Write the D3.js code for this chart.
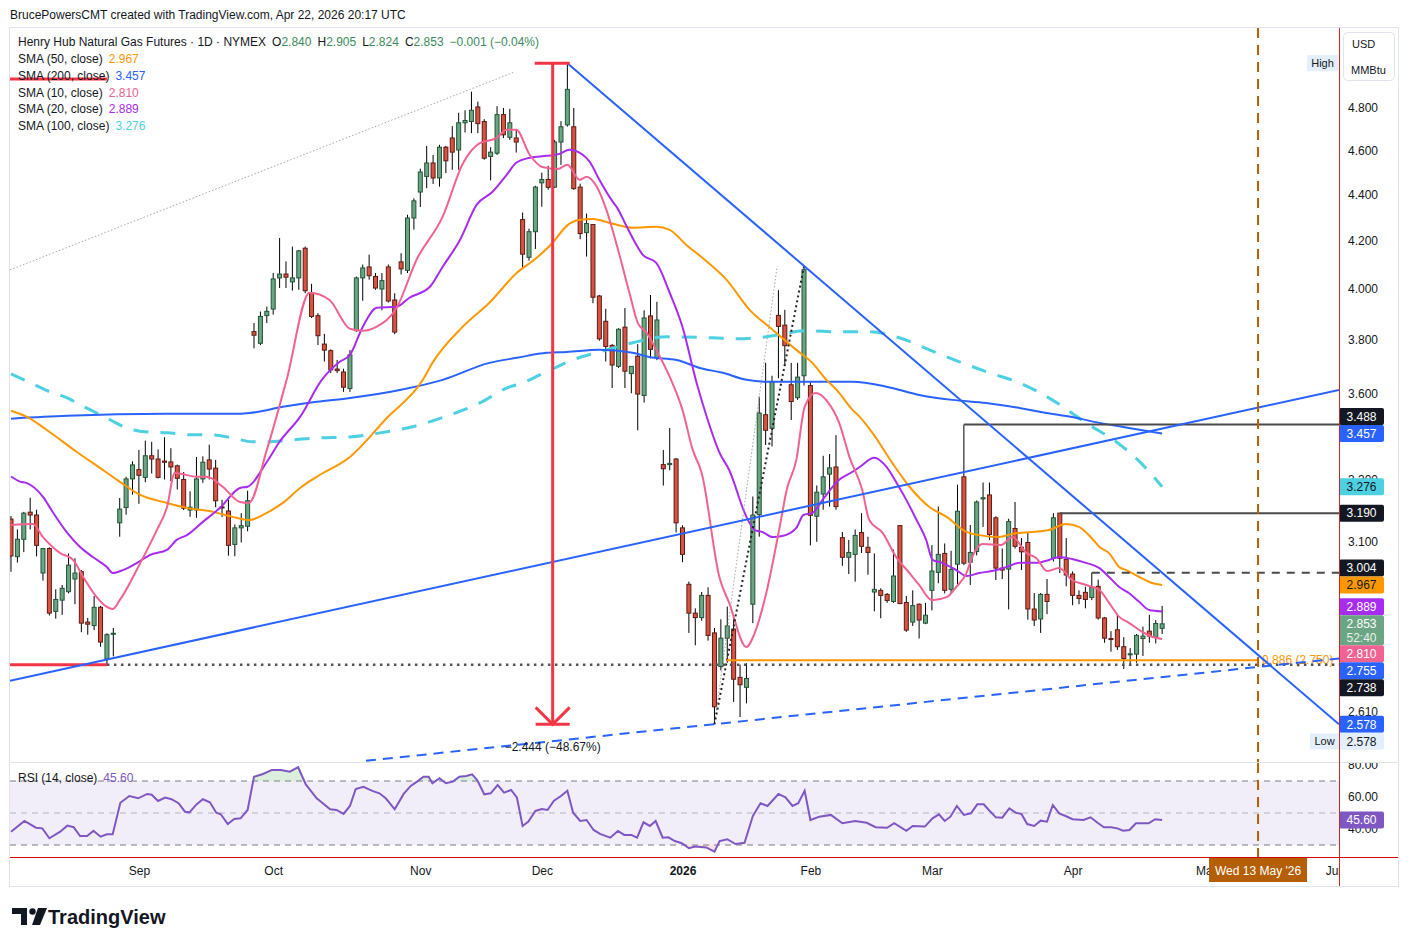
<!DOCTYPE html>
<html>
<head>
<meta charset="utf-8">
<script src="https://cdn.jsdelivr.net/npm/d3@7"></script>
<style>
  body { margin: 0; background: #fff; }
  svg { display: block; }
</style>
</head>
<body>
<svg id="chart"></svg>
<script>
// daily bars from Mon 4 Aug 2025 to Wed 22 Apr 2026
const opens = [3.171,3.053,3.107,3.193,3.184,3.003,3.078,2.889,2.922,2.947,2.985,3.007,2.858,2.848,2.901,2.754,2.823,3.159,3.208,3.302,
  3.333,3.307,3.380,3.369,3.362,3.359,3.346,3.300,3.200,3.200,3.302,3.366,3.338,3.210,3.197,3.091,3.143,3.148,3.831,3.786,
  3.893,3.919,4.044,4.060,4.028,4.044,4.167,3.982,3.893,3.783,3.758,3.689,3.678,3.617,3.835,4.044,4.089,4.050,3.999,4.089,
  3.955,4.110,4.075,4.296,4.410,4.480,4.541,4.473,4.614,4.657,4.601,4.729,4.735,4.805,4.735,4.571,4.586,4.768,4.660,4.657,
  4.289,4.129,4.237,4.451,4.466,4.432,4.638,4.719,4.710,4.432,4.233,4.268,3.971,3.871,3.778,3.699,3.848,3.672,3.737,3.592,
  3.892,3.730,3.350,3.350,3.369,3.143,2.969,2.884,2.871,2.936,2.827,2.733,2.812,2.838,2.703,2.676,2.910,3.185,3.523,3.475,
  3.894,3.856,3.631,3.584,3.664,3.628,3.180,3.252,3.318,3.342,3.112,3.051,3.060,3.128,3.082,2.946,2.951,2.939,2.918,3.150,
  2.915,2.858,2.910,2.855,2.951,3.005,3.063,2.954,3.030,3.309,3.036,3.069,3.236,3.249,3.175,3.018,3.015,3.141,3.082,3.097,
  2.896,2.867,2.939,3.048,3.190,3.045,3.000,2.936,2.945,2.930,2.963,2.870,2.811,2.836,2.788,2.766,2.767,2.811,2.832,2.815,2.840];
const highs = [3.181,3.138,3.194,3.240,3.201,3.080,3.082,2.954,2.967,3.063,3.048,3.012,2.870,2.934,2.905,2.826,2.841,3.239,3.309,3.361,
  3.400,3.432,3.428,3.402,3.444,3.406,3.350,3.325,3.261,3.376,3.378,3.418,3.366,3.233,3.233,3.154,3.190,3.263,3.864,3.909,
  3.929,4.064,4.210,4.112,4.174,4.160,4.174,4.020,3.903,3.822,3.763,3.723,3.690,3.760,4.050,4.099,4.140,4.064,4.064,4.099,
  3.982,4.146,4.310,4.382,4.515,4.620,4.578,4.625,4.620,4.713,4.777,4.789,4.880,4.831,4.746,4.614,4.809,4.800,4.796,4.697,
  4.320,4.250,4.438,4.497,4.528,4.648,4.737,5.022,4.800,4.447,4.315,4.270,3.975,3.920,3.783,3.844,3.923,3.700,3.783,3.914,
  3.975,3.948,3.400,3.476,3.372,3.151,2.977,2.898,2.946,2.960,2.841,2.866,2.903,2.874,2.738,2.742,3.244,3.588,3.712,3.664,
  3.994,3.916,3.712,3.712,4.092,3.640,3.280,3.380,3.386,3.451,3.130,3.105,3.138,3.190,3.115,3.063,2.957,2.943,3.075,3.152,
  2.934,2.951,2.912,2.914,3.089,3.211,3.094,3.071,3.283,3.488,3.152,3.231,3.290,3.290,3.180,3.078,3.172,3.226,3.111,3.130,
  2.943,2.943,2.985,3.190,3.190,3.111,3.008,2.951,2.962,3.004,2.983,2.873,2.832,2.881,2.815,2.784,2.824,2.845,2.879,2.864,2.905];
const lows = [3.007,3.035,3.067,3.138,3.054,2.980,2.877,2.868,2.879,2.942,2.910,2.829,2.822,2.835,2.788,2.738,2.761,3.115,3.185,3.250,
  3.220,3.291,3.320,3.304,3.300,3.295,3.267,3.200,3.178,3.175,3.289,3.300,3.209,3.178,3.056,3.054,3.097,3.132,3.767,3.779,
  3.864,3.897,4.003,4.003,3.993,3.996,3.982,3.884,3.779,3.717,3.674,3.674,3.605,3.605,3.830,3.952,4.037,3.996,3.914,3.945,
  3.821,4.058,4.064,4.246,4.344,4.427,4.446,4.434,4.495,4.510,4.510,4.683,4.680,4.680,4.556,4.462,4.578,4.657,4.648,4.589,
  4.087,4.115,4.164,4.345,4.420,4.428,4.532,4.711,4.420,4.205,4.132,3.942,3.796,3.717,3.619,3.693,3.619,3.600,3.468,3.566,
  3.729,3.722,3.280,3.331,3.128,3.036,2.827,2.792,2.862,2.805,2.578,2.722,2.743,2.637,2.597,2.633,2.855,3.115,3.417,3.412,
  3.655,3.700,3.504,3.576,3.628,3.088,3.099,3.201,3.211,3.201,3.025,3.000,2.977,3.064,2.998,2.889,2.869,2.914,2.914,2.910,
  2.830,2.847,2.811,2.852,2.892,2.972,2.942,2.942,2.970,3.027,2.967,3.057,3.146,3.105,2.982,2.985,2.895,3.078,3.012,2.865,
  2.847,2.827,2.881,3.038,3.003,2.963,2.907,2.910,2.898,2.922,2.865,2.799,2.774,2.779,2.726,2.738,2.743,2.762,2.799,2.797,2.824];
const closes = [3.055,3.107,3.190,3.184,3.088,3.078,2.884,2.924,2.957,3.027,3.003,2.855,2.852,2.901,2.801,2.822,2.826,3.203,3.302,3.349,
  3.314,3.380,3.369,3.307,3.358,3.342,3.304,3.206,3.209,3.302,3.358,3.335,3.230,3.207,3.088,3.143,3.150,3.230,3.817,3.890,
  3.910,4.040,4.060,4.047,4.044,4.156,3.992,3.890,3.815,3.760,3.686,3.683,3.622,3.742,4.044,4.085,4.053,4.003,4.033,3.951,
  3.829,4.081,4.296,4.371,4.500,4.541,4.473,4.614,4.551,4.591,4.729,4.740,4.789,4.725,4.563,4.591,4.768,4.672,4.729,4.638,
  4.142,4.237,4.432,4.466,4.431,4.638,4.710,4.891,4.425,4.229,4.272,3.966,3.803,3.774,3.704,3.840,3.681,3.699,3.597,3.884,
  3.763,3.876,3.336,3.354,3.159,3.060,2.884,2.871,2.936,2.820,2.624,2.812,2.847,2.698,2.683,2.700,3.184,3.529,3.468,3.641,
  3.851,3.777,3.570,3.659,4.078,3.183,3.258,3.309,3.339,3.211,3.051,3.066,3.119,3.085,3.066,2.954,2.936,2.921,2.994,2.912,
  2.835,2.906,2.864,2.878,3.009,3.060,2.951,3.014,3.196,3.033,3.066,3.226,3.240,3.122,3.018,3.012,3.163,3.085,3.068,2.896,
  2.864,2.939,2.918,3.175,3.048,2.997,2.936,2.927,2.924,2.960,2.870,2.812,2.809,2.788,2.755,2.768,2.820,2.818,2.818,2.854,2.853];

// moving averages: [bar, value]
const sma10 = [[0,3.152],[3.4,3.155],[5,3.114],[7.7,3.064],[9.7,3.043],[11.3,2.991],[13.4,2.931],[15,2.902],[15.9,2.896],[17,2.922],
  [20.2,3.033],[22.8,3.136],[24.4,3.210],[25.6,3.322],[29.1,3.309],[30.6,3.309],[33.1,3.276],[35.8,3.226],[37.2,3.223],[40,3.400],
  [43.1,3.649],[46.7,3.984],[49.8,3.955],[53,3.842],[55,3.834],[57.2,3.850],[60.3,3.924],[63.4,4.118],[67.5,4.302],[70.7,4.541],
  [73.3,4.633],[75.9,4.656],[77.5,4.696],[79,4.696],[81.1,4.579],[83.1,4.523],[85.5,4.514],[87,4.533],[88.9,4.465],[90,4.478],
  [91.6,4.433],[93.1,4.331],[94.8,4.173],[96.7,3.984],[98,3.865],[99.4,3.826],[100.9,3.761],[103,3.660],[105,3.540],[106.6,3.400],
  [108,3.322],[110.8,2.988],[112.3,2.914],[115,2.787],[116.3,2.827],[118.1,2.943],[120.2,3.146],[121.3,3.266],[122.8,3.366],[124.1,3.551],
  [125.8,3.601],[127.7,3.569],[129.5,3.494],[131.1,3.376],[133.1,3.266],[134.2,3.168],[136.3,3.127],[138.4,3.052],[140.5,3.003],[142,2.967],
  [144,2.922],[146.3,2.931],[147.8,2.961],[149.4,3.003],[150.3,3.052],[151.9,3.092],[154.8,3.089],[156.6,3.114],[158.8,3.064],[160.3,3.049],
  [162,3.009],[163.9,3.018],[165.9,2.982],[168.1,2.967],[170.2,2.952],[171.7,2.914],[173.3,2.873],[174.8,2.856],[176.9,2.830],[178.4,2.816],[180,2.810]];
const sma20 = [[0,3.310],[1.4,3.293],[2.5,3.288],[5,3.243],[6.6,3.191],[8.8,3.127],[10.8,3.083],[12.8,3.052],[15,3.021],[15.9,3.003],
  [17.5,3.012],[19.7,3.034],[21.7,3.058],[24.4,3.074],[25.9,3.105],[27.5,3.120],[30,3.162],[32.7,3.207],[35.8,3.272],[37,3.276],
  [40,3.359],[42,3.428],[45.2,3.515],[48.6,3.649],[51.4,3.716],[53,3.742],[55,3.849],[57.2,3.924],[60.3,3.928],[62.3,3.964],
  [65.5,4.008],[67.5,4.090],[70.2,4.202],[72.8,4.353],[75.3,4.411],[77.5,4.487],[79,4.542],[81.1,4.565],[83.8,4.574],[85.8,4.583],
  [87.3,4.602],[89.4,4.579],[90.5,4.546],[92,4.465],[93.9,4.375],[94.8,4.340],[96.3,4.258],[97.8,4.181],[98.8,4.139],[100.9,4.106],
  [103,3.984],[105,3.849],[107.2,3.638],[108.8,3.515],[110.8,3.390],[112.3,3.332],[115,3.178],[116.3,3.136],[117.5,3.130],[119.1,3.114],
  [120.6,3.117],[122.8,3.143],[123.9,3.184],[125.3,3.190],[126.9,3.233],[129.5,3.299],[131.6,3.326],[132.7,3.342],[135,3.373],[136.9,3.342],
  [138.4,3.292],[140,3.233],[141.6,3.168],[143.1,3.105],[144.1,3.043],[145.6,3.034],[147.8,3.012],[149.4,2.994],[151.4,3.003],[153.4,3.009],
  [155.6,3.021],[157.7,3.034],[160.3,3.034],[162.3,3.043],[163.9,3.052],[165.9,3.046],[168.1,3.034],[170.2,3.018],[171.7,2.991],[173.3,2.961],
  [174.8,2.943],[176.4,2.917],[178,2.893],[180,2.889]];
const sma50 = [[0,3.537],[2.5,3.515],[5.6,3.469],[10.3,3.393],[13.9,3.339],[16.6,3.299],[20.2,3.249],[24.4,3.223],[27.5,3.207],[31.6,3.194],
  [34.7,3.178],[37.3,3.168],[40,3.191],[42.5,3.223],[45.2,3.272],[47.8,3.309],[53,3.376],[58.8,3.512],[64.4,3.649],[65.9,3.712],
  [70.6,3.849],[74.8,3.944],[79.1,4.065],[82.2,4.127],[84.7,4.190],[86.9,4.262],[88.9,4.288],[91,4.292],[94.1,4.271],[97.2,4.254],
  [100.9,4.258],[103,4.245],[105.6,4.181],[108.1,4.127],[111.9,4.036],[115.5,3.916],[119.1,3.838],[122.8,3.761],[125.3,3.712],[127.5,3.649],
  [129.1,3.612],[131.6,3.540],[132.7,3.515],[134.7,3.459],[137.8,3.356],[140.5,3.276],[143.6,3.210],[146.3,3.178],[149.4,3.130],[151.4,3.120],
  [154.5,3.114],[156.6,3.124],[159.7,3.130],[162.3,3.136],[165,3.155],[167,3.146],[169.1,3.108],[170.2,3.083],[171.7,3.064],[173.3,3.021],
  [174.4,3.012],[176.4,2.991],[178.4,2.973],[180,2.967]];
const sma100 = [[0,3.671],[3.4,3.634],[6.1,3.605],[8.8,3.583],[10.8,3.558],[13.4,3.529],[15.5,3.505],[18.1,3.476],[21.3,3.462],[24.4,3.459],
  [28.4,3.452],[31.6,3.452],[34.7,3.441],[37.8,3.428],[40,3.428],[43.6,3.434],[47.8,3.441],[53,3.445],[57.7,3.459],[63.9,3.487],
  [68.6,3.522],[73.3,3.565],[77.5,3.619],[80,3.638],[82.7,3.667],[87.8,3.723],[92,3.753],[97.2,3.788],[102.5,3.811],[109.7,3.807],
  [113.9,3.803],[118.1,3.811],[124.4,3.834],[129.5,3.830],[134.2,3.830],[138.9,3.807],[143.6,3.761],[148.3,3.716],[153,3.675],[157.7,3.638],
  [162.8,3.576],[168.1,3.494],[173.3,3.420],[176.4,3.362],[180,3.276]];
const sma200 = [[0,3.509],[8.8,3.519],[24.4,3.526],[34.7,3.526],[37.3,3.529],[42.5,3.551],[47.8,3.569],[53,3.583],[60.8,3.612],[67.5,3.649],
  [74.8,3.712],[79.1,3.731],[83.8,3.750],[86.9,3.753],[92,3.761],[97.2,3.750],[99.8,3.734],[104.1,3.723],[107.7,3.693],[111.3,3.675],
  [115,3.649],[118.1,3.642],[124.4,3.642],[131.6,3.642],[136.9,3.624],[142,3.594],[147.2,3.576],[152.5,3.565],[157.7,3.547],[161.9,3.529],
  [165.9,3.515],[170.2,3.494],[174.8,3.476],[180,3.457]];

// RSI (14): [bar, value]
const rsi14 = [[0,38.3],[2.1,45.0],[3.9,40.8],[4.9,40.4],[6,34.2],[7.7,38.3],[8.8,42.1],[9.8,41.1],[10.8,35.6],[11.9,35.6],
  [12.9,38.9],[14,35.2],[15,36.7],[15.9,36.7],[17.1,56.4],[18.5,60.6],[19.9,59.2],[21.3,61.9],[22,61.4],[23,57.5],
  [24.1,59.6],[25.1,58.6],[26.2,56.1],[27.2,50.8],[27.9,50.4],[29,55.4],[30,58.6],[31.1,56.7],[32.1,50.2],[32.8,49.2],
  [33.9,43.1],[34.9,46.3],[35.9,46.7],[37,51.9],[38,72.7],[39.4,74.4],[40.8,76.9],[42.2,76.9],[43.6,75.8],[44.9,78.6],
  [46.1,67.9],[47.8,59.2],[49.9,52.3],[50.9,51.9],[52,49.4],[53,54.4],[53.9,65.0],[55.1,66.4],[56.5,63.8],[57.6,62.3],
  [58.6,59.2],[60,52.3],[61.4,61.9],[62.5,66.9],[63.5,69.6],[64.5,72.7],[65.3,72.7],[65.9,68.6],[67,71.7],[68,68.6],
  [69.1,69.6],[70.1,72.7],[71.2,73.1],[72.1,74.2],[72.9,70.6],[74,61.7],[75,62.3],[76.1,67.5],[77.1,62.7],[78.2,64.4],
  [79.1,59.8],[80,41.9],[80.9,44.6],[82,51.3],[83,52.5],[83.9,51.9],[84.9,57.7],[86,60.6],[87,63.9],[87.9,50.2],
  [89,45.0],[90,45.6],[91.1,39.4],[92.1,36.9],[93.7,34.6],[94.9,38.8],[95.9,36.3],[97,36.3],[97.9,34.6],[98.9,44.2],
  [99.9,41.9],[100.8,45.0],[101.9,34.6],[102.8,34.8],[103.8,32.5],[104.9,31.1],[106,28.0],[107,29.0],[108.7,28.5],[110,25.8],
  [110.8,32.5],[112,33.6],[113.3,30.6],[114.7,31.4],[116,48.1],[117.2,56.1],[118.3,54.4],[120,61.9],[121.1,59.8],[122.2,54.4],
  [123.1,56.1],[124.1,63.9],[125,45.6],[126.4,47.7],[128.2,48.8],[130,43.6],[132,45.0],[133.8,43.9],[135.2,41.1],[137,40.8],
  [138.1,43.6],[140,38.9],[141,41.9],[142.9,41.5],[144.1,46.7],[145.1,49.2],[146,45.0],[146.9,47.7],[147.9,54.4],[149,48.8],
  [150.1,49.8],[151.1,55.4],[152.1,55.4],[152.9,51.9],[154,47.3],[155,47.1],[156.1,52.9],[157.1,50.2],[158,49.4],[158.9,43.1],
  [160,41.9],[161,45.2],[162,44.6],[162.9,55.0],[163.9,49.8],[164.9,48.1],[166,46.1],[167.7,45.6],[168.8,47.3],[169.9,43.9],
  [170.9,41.1],[172,41.1],[173,40.4],[173.9,38.9],[174.9,39.4],[175.9,43.6],[176.8,43.6],[177.9,43.6],[178.9,46.1],[180,45.6]];

// drawings: [bar, price] end points
const fallLine = [[87, 5.022], [207.656, 2.578]];
const riseLine = [[-0.156, 2.694], [207.656, 3.612]];
const supportDash = [[55.5, 2.485], [207.656, 2.755]];
const greyDotted = [[-0.156, 4.077], [78.75, 4.978]];
const blackDotted = [[110, 2.578], [124, 4.092]];
const greyDotted2 = [[110, 2.578], [119.8, 4.092]];
const levelLines = [[3.488, 149], [3.190, 164]];
const dashedLevel = [3.004, 169];
const lowLevel = [2.738, 15];
const topMark = [4.942, 15];
const fibLevel = [2.750, 111.9];
const measure = { bar: 84.7, hi: 5.022, lo: 2.578 };

const priceTicks = [4.8, 4.6, 4.4, 4.2, 4.0, 3.8, 3.6, 3.3, 3.1, 2.61];
const rsiTicks = [80, 60, 40];
const tagPrices = [3.488, 3.457, 3.276, 3.190, 3.004, 2.967, 2.889, 2.853, 2.810, 2.755, 2.738, 2.578, 2.578];

const holidays = ["2025-09-01","2025-11-27","2025-12-25","2026-01-01","2026-01-19","2026-02-16","2026-04-03","2026-05-25"];
const markedDay = "2026-05-13";

// ---------------------------------------------------------------
const FONT = "'Liberation Sans', Arial, sans-serif";
const INK = "#131722";
const W = 1409, H = 946;
const plotL = 10, plotR = 1339, priceTop = 28, priceBot = 762, rsiTop = 763, rsiBot = 857, axisBot = 886;

const upFill = "#6BA583", upLine = "#225437", dnFill = "#D75442", dnLine = "#5B1A13";
const cOrange = "#FF9800", cBlue = "#2962FF", cPink = "#F06292", cPurple = "#A72CF0", cCyan = "#4DD0E1", cRsi = "#7E57C2";
const cRed = "#F23645", cBrown = "#B45F06";

const fmtDay = d3.utcFormat("%Y-%m-%d");
const tradingDays = d3.utcDays(new Date(Date.UTC(2025, 7, 4)), new Date(Date.UTC(2026, 6, 1)))
  .filter(d => d.getUTCDay() !== 0 && d.getUTCDay() !== 6 && !holidays.includes(fmtDay(d)));
const monthTicks = d3.range(1, tradingDays.length)
  .filter(k => tradingDays[k].getUTCMonth() !== tradingDays[k - 1].getUTCMonth());
const markK = tradingDays.findIndex(d => fmtDay(d) === markedDay);

const bars = opens.map((o, k) => ({ k, o, h: highs[k], l: lows[k], c: closes[k] }));

const x = d3.scaleLinear().domain([-0.156, 207.656]).range([plotL, plotR]);
const y = d3.scaleLog().domain([2.61, 4.8]).range([712.1, 108]);
const yr = d3.scaleLinear().domain([30, 80]).range([845, 765]);

const svg = d3.select("#chart").attr("width", W).attr("height", H)
  .attr("font-family", FONT);

svg.append("rect").attr("width", W).attr("height", H).attr("fill", "#fff");

const defs = svg.append("defs");
const clip = (id, x0, y0, x1, y1) => defs.append("clipPath").attr("id", id)
  .append("rect").attr("x", x0).attr("y", y0).attr("width", x1 - x0).attr("height", y1 - y0);
clip("cPrice", plotL, priceTop, plotR, priceBot);
clip("cRsi", plotL, rsiTop, plotR, rsiBot);
clip("cOver", plotL, rsiTop, plotR, yr(70));
clip("cUnder", plotL, yr(30), plotR, rsiBot);
clip("cTime", plotL, rsiBot, plotR, axisBot);
clip("cPAxis", plotR, priceTop, 1398, priceBot);
clip("cRAxis", plotR, rsiTop, 1398, rsiBot);

// header
svg.append("text").attr("x", 10).attr("y", 19).attr("font-size", 12).attr("fill", INK)
  .text("BrucePowersCMT created with TradingView.com, Apr 22, 2026 20:17 UTC");

// frame
svg.append("rect").attr("x", 9.5).attr("y", 27.5).attr("width", 1389).attr("height", 859)
  .attr("fill", "none").attr("stroke", "#E0E3EB");
svg.append("line").attr("x1", plotL).attr("x2", 1398).attr("y1", 762.5).attr("y2", 762.5)
  .attr("stroke", "#E0E3EB");

// ---------------- price pane
const pricePane = svg.append("g").attr("clip-path", "url(#cPrice)");

const candleG = pricePane.append("g");
candleG.selectAll("line").data(bars).join("line")
  .attr("x1", d => x(d.k)).attr("x2", d => x(d.k))
  .attr("y1", d => y(d.h)).attr("y2", d => y(d.l))
  .attr("stroke", "#000").attr("stroke-width", 1);
candleG.selectAll("rect").data(bars).join("rect")
  .attr("x", d => x(d.k) - 2)
  .attr("y", d => y(Math.max(d.o, d.c)))
  .attr("width", 4)
  .attr("height", d => Math.max(1, y(Math.min(d.o, d.c)) - y(Math.max(d.o, d.c))))
  .attr("fill", d => d.c >= d.o ? upFill : dnFill)
  .attr("stroke", d => d.c >= d.o ? upLine : dnLine)
  .attr("stroke-width", 1);

const smaLine = d3.line().x(d => x(d[0])).y(d => y(d[1])).curve(d3.curveMonotoneX);
const addSma = (data, color, width, dash) => pricePane.append("path").datum(data)
  .attr("d", smaLine).attr("fill", "none").attr("stroke", color)
  .attr("stroke-width", width).attr("stroke-dasharray", dash || null);
addSma(sma100, cCyan, 3, "15,12");
addSma(sma200, cBlue, 2);
addSma(sma50, cOrange, 2);
addSma(sma20, cPurple, 2);
addSma(sma10, cPink, 2);

// drawings
const seg = (pts, color, width, dash) => pricePane.append("line")
  .attr("x1", x(pts[0][0])).attr("y1", y(pts[0][1]))
  .attr("x2", x(pts[1][0])).attr("y2", y(pts[1][1]))
  .attr("stroke", color).attr("stroke-width", width)
  .attr("stroke-dasharray", dash || null);

seg(greyDotted, "#A3A6AF", 1, "1.5,2");
seg(greyDotted2, "#A3A6AF", 1, "1.5,2");
seg(blackDotted, "#222", 2, "2,3");

// fib 0.886 level
pricePane.append("text").attr("x", x(markK) + 4).attr("y", y(fibLevel[0]) + 4)
  .attr("font-size", 12).attr("fill", cOrange).text(`0.886 (${fibLevel[0].toFixed(3)})`);
seg([[fibLevel[1], fibLevel[0]], [markK, fibLevel[0]]], cOrange, 2);

levelLines.forEach(([p, k]) => seg([[k, p], [207.656, p]], "#4A4A4A", 2));
seg([[dashedLevel[1], dashedLevel[0]], [207.656, dashedLevel[0]]], "#4A4A4A", 2, "8,7");
seg([[lowLevel[1], lowLevel[0]], [207.656, lowLevel[0]]], "#555", 2.5, "2.5,4.5");
seg([[-0.156, lowLevel[0]], [lowLevel[1], lowLevel[0]]], cRed, 3);
seg([[-0.156, topMark[0]], [topMark[1], topMark[0]]], cRed, 3);

seg(riseLine, cBlue, 2);
seg(fallLine, cBlue, 2);
seg(supportDash, cBlue, 2, "10,7");

// price range measure
const mx = x(measure.bar), myTop = y(measure.hi), myBot = y(measure.lo);
const mG = pricePane.append("g").attr("stroke", cRed).attr("stroke-width", 3).attr("fill", "none");
mG.append("line").attr("x1", mx).attr("x2", mx).attr("y1", myTop).attr("y2", myBot);
mG.append("line").attr("x1", mx - 18).attr("x2", mx + 17).attr("y1", myTop).attr("y2", myTop);
mG.append("line").attr("x1", mx - 17).attr("x2", mx + 17).attr("y1", myBot).attr("y2", myBot);
mG.append("path").attr("d", `M${mx - 17},${myBot - 17}L${mx},${myBot}L${mx + 17},${myBot - 17}`);
const diff = measure.lo - measure.hi;
pricePane.append("text").attr("x", mx).attr("y", myBot + 27).attr("text-anchor", "middle")
  .attr("font-size", 12).attr("fill", INK)
  .text(`${d3.format(".3f")(diff)} (${d3.format(".2f")(diff / measure.hi * 100)}%)`);

// vertical time marker
pricePane.append("line").attr("x1", x(markK)).attr("x2", x(markK))
  .attr("y1", priceTop).attr("y2", priceBot)
  .attr("stroke", cBrown).attr("stroke-width", 2).attr("stroke-dasharray", "10,7");

// ---------------- RSI pane
const rsiPane = svg.append("g").attr("clip-path", "url(#cRsi)");
rsiPane.append("rect").attr("x", plotL).attr("width", plotR - plotL)
  .attr("y", yr(70)).attr("height", yr(30) - yr(70))
  .attr("fill", cRsi).attr("fill-opacity", 0.1);
[70, 50, 30].forEach(v => rsiPane.append("line")
  .attr("x1", plotL).attr("x2", plotR).attr("y1", yr(v)).attr("y2", yr(v))
  .attr("stroke", "#787B86").attr("stroke-opacity", v === 50 ? 0.5 : 1)
  .attr("stroke-dasharray", "6,5"));
rsiPane.append("g").attr("clip-path", "url(#cOver)").append("path").datum(rsi14)
  .attr("d", d3.area().x(d => x(d[0])).y1(d => yr(d[1])).y0(yr(70)))
  .attr("fill", "#4CAF50").attr("fill-opacity", 0.2);
rsiPane.append("g").attr("clip-path", "url(#cUnder)").append("path").datum(rsi14)
  .attr("d", d3.area().x(d => x(d[0])).y1(d => yr(d[1])).y0(yr(30)))
  .attr("fill", "#F23645").attr("fill-opacity", 0.15);
rsiPane.append("path").datum(rsi14)
  .attr("d", d3.line().x(d => x(d[0])).y(d => yr(d[1])))
  .attr("fill", "none").attr("stroke", cRsi).attr("stroke-width", 2);
rsiPane.append("line").attr("x1", x(markK)).attr("x2", x(markK))
  .attr("y1", rsiTop).attr("y2", rsiBot)
  .attr("stroke", cBrown).attr("stroke-width", 2).attr("stroke-dasharray", "10,7");

// ---------------- legends
const legend = (yPos, parts) => {
  const t = svg.append("text").attr("x", 18).attr("y", yPos).attr("font-size", 12);
  parts.forEach(([s, color, gap]) => t.append("tspan").attr("dx", gap || 0).attr("fill", color).text(s));
};
const last = bars[bars.length - 1], prev = bars[bars.length - 2];
const chg = last.c - prev.c;
const cVal = "#3E8A60";
const f3 = d3.format(".3f");
legend(46, [["Henry Hub Natural Gas Futures · 1D · NYMEX", INK],
  ["O", INK, 6], [f3(last.o), cVal], ["H", INK, 6], [f3(last.h), cVal],
  ["L", INK, 6], [f3(last.l), cVal], ["C", INK, 6], [f3(last.c), cVal],
  [`${f3(chg)} (${d3.format(".2f")(chg / prev.c * 100)}%)`, cVal, 6]]);
const smaRows = [["SMA (50, close)", sma50, cOrange], ["SMA (200, close)", sma200, cBlue],
  ["SMA (10, close)", sma10, cPink], ["SMA (20, close)", sma20, cPurple], ["SMA (100, close)", sma100, cCyan]];
smaRows.forEach(([label, data, color], i) =>
  legend(63 + i * 16.8, [[label, INK], [f3(data[data.length - 1][1]), color, 6]]));
legend(782, [["RSI (14, close)", INK], [d3.format(".2f")(rsi14[rsi14.length - 1][1]), cRsi, 6]]);

// ---------------- axes
const pAxis = svg.append("g").attr("clip-path", "url(#cPAxis)")
  .append("g").attr("transform", `translate(${plotR},0)`)
  .call(d3.axisRight(y).tickValues(priceTicks).tickFormat(f3).tickSize(0).tickPadding(9));
pAxis.select(".domain").remove();
pAxis.attr("font-family", FONT).attr("font-size", 12).selectAll("text").attr("fill", INK);

const rAxis = svg.append("g").attr("clip-path", "url(#cRAxis)")
  .append("g").attr("transform", `translate(${plotR},0)`)
  .call(d3.axisRight(yr).tickValues(rsiTicks).tickFormat(d3.format(".2f")).tickSize(0).tickPadding(9));
rAxis.select(".domain").remove();
rAxis.attr("font-family", FONT).attr("font-size", 12).selectAll("text").attr("fill", INK);

const tAxis = svg.append("g").attr("clip-path", "url(#cTime)")
  .append("g").attr("transform", `translate(0,${rsiBot})`)
  .call(d3.axisBottom(x).tickValues(monthTicks).tickSize(0).tickPadding(9)
    .tickFormat(k => tradingDays[k].getUTCMonth() === 0 ? d3.utcFormat("%Y")(tradingDays[k]) : d3.utcFormat("%b")(tradingDays[k])));
tAxis.select(".domain").remove();
tAxis.attr("font-family", FONT).attr("font-size", 12).selectAll("text").attr("fill", INK)
  .attr("font-weight", k => tradingDays[k].getUTCMonth() === 0 ? "bold" : null);

// unit box
svg.append("rect").attr("x", 1343.5).attr("y", 32.5).attr("width", 51).attr("height", 48).attr("rx", 4)
  .attr("fill", "#fff").attr("stroke", "#E0E3EB");
svg.append("text").attr("x", 1352).attr("y", 48).attr("font-size", 11).attr("fill", INK).text("USD");
svg.append("text").attr("x", 1351).attr("y", 74).attr("font-size", 11).attr("fill", INK).text("MMBtu");

// high label
const hiY = y(highs[87]);
svg.append("rect").attr("x", 1307).attr("y", hiY - 8).attr("width", 31).attr("height", 16).attr("fill", "#E3EFFD");
svg.append("text").attr("x", 1322.5).attr("y", hiY + 4).attr("text-anchor", "middle")
  .attr("font-size", 11).attr("fill", INK).text("High");

// price tags, stacked away from the live price tag
const tagStyle = [
  { bg: INK, fg: "#fff" }, { bg: cBlue, fg: "#fff" }, { bg: cCyan, fg: INK }, { bg: INK, fg: "#fff" },
  { bg: INK, fg: "#fff" }, { bg: cOrange, fg: INK }, { bg: cPurple, fg: "#fff" }, { bg: upFill, fg: "#fff", live: true },
  { bg: cPink, fg: "#fff" }, { bg: cBlue, fg: "#fff" }, { bg: INK, fg: "#fff" }, { bg: cBlue, fg: "#fff" },
  { bg: "#E3EFFD", fg: INK, low: true }];
const tags = tagPrices.map((p, i) => Object.assign({ p, y0: y(p) }, tagStyle[i]));
const liveIdx = tags.findIndex(t => t.live);
tags[liveIdx].y = tags[liveIdx].y0;
for (let i = liveIdx + 1; i < tags.length; i++) {
  const pv = tags[i - 1];
  tags[i].y = Math.max(tags[i].y0, pv.y + (pv.live ? 21.5 : 8.5) + 8.5);
}
for (let i = liveIdx - 1; i >= 0; i--) tags[i].y = Math.min(tags[i].y0, tags[i + 1].y - 17);

const tagG = svg.append("g").attr("font-size", 12);
tags.forEach(t => {
  tagG.append("rect").attr("x", plotR).attr("y", t.y - 8.5).attr("width", 45)
    .attr("height", t.live ? 30 : 17).attr("rx", 2).attr("fill", t.bg);
  tagG.append("text").attr("x", plotR + 22.5).attr("y", t.y + 4.3).attr("text-anchor", "middle")
    .attr("fill", t.fg).text(f3(t.p));
  if (t.live) tagG.append("text").attr("x", plotR + 22.5).attr("y", t.y + 18.3).attr("text-anchor", "middle")
    .attr("fill", "#E8F1EB").text("52:40");
  if (t.low) {
    tagG.append("rect").attr("x", 1310).attr("y", t.y - 8).attr("width", 29).attr("height", 16).attr("fill", t.bg);
    tagG.append("text").attr("x", 1324.5).attr("y", t.y + 4).attr("text-anchor", "middle")
      .attr("font-size", 11).attr("fill", INK).text("Low");
  }
});
const rsiNow = rsi14[rsi14.length - 1][1];
tagG.append("rect").attr("x", plotR).attr("y", yr(rsiNow) - 8.5).attr("width", 45).attr("height", 17)
  .attr("rx", 2).attr("fill", cRsi);
tagG.append("text").attr("x", plotR + 22.5).attr("y", yr(rsiNow) + 4.3).attr("text-anchor", "middle")
  .attr("fill", "#fff").text(d3.format(".2f")(rsiNow));

// red separators
svg.append("line").attr("x1", plotR + 0.5).attr("x2", plotR + 0.5).attr("y1", priceTop).attr("y2", axisBot)
  .attr("stroke", "#C62828").attr("stroke-width", 1);
svg.append("line").attr("x1", plotL).attr("x2", 1398).attr("y1", rsiBot + 0.5).attr("y2", rsiBot + 0.5)
  .attr("stroke", "#D50000").attr("stroke-width", 1.2);

// marked date on time axis
svg.append("rect").attr("x", x(markK) - 49).attr("y", rsiBot + 1).attr("width", 98).attr("height", 24)
  .attr("fill", cBrown);
svg.append("text").attr("x", x(markK)).attr("y", rsiBot + 17.5).attr("text-anchor", "middle")
  .attr("font-size", 12).attr("fill", "#fff").text(d3.utcFormat("%a %-d %b '%y")(tradingDays[markK]));

// TradingView mark
const logo = svg.append("g").attr("transform", "translate(12,907)").attr("fill", INK);
logo.append("path").attr("d", "M0 1h15v17h-6v-11h-9z");
logo.append("circle").attr("cx", 20.5).attr("cy", 4.5).attr("r", 3.2);
logo.append("path").attr("d", "M26 1h9l-7 17h-8z");
logo.append("text").attr("x", 36).attr("y", 17).attr("font-size", 20).attr("font-weight", "bold")
  .attr("fill", INK).text("TradingView");
</script>
</body>
</html>
